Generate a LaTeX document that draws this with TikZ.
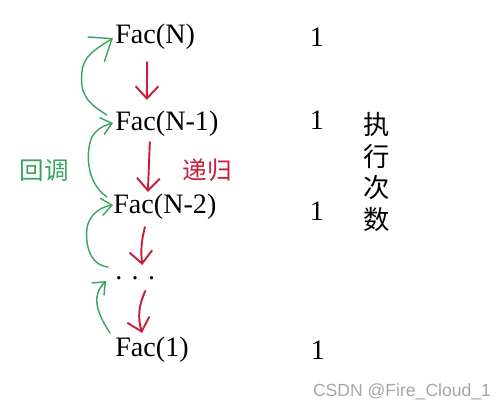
\documentclass[tikz,border=0pt]{standalone}
\usepackage{fontspec}
\setmainfont{Liberation Serif}
\newfontfamily\cjk{Noto Sans CJK SC}
\newfontfamily\wmfont{Liberation Sans}
\usetikzlibrary{arrows.meta}

\definecolor{recred}{RGB}{200,32,58}
\definecolor{backgreen}{RGB}{58,163,96}

\begin{document}
\begin{tikzpicture}[x=0.02cm, y=-0.02cm,
	fac/.style={font=\fontsize{16}{18}\selectfont, inner sep=0pt, anchor=west},
	cnt/.style={font=\fontsize{16}{18}\selectfont, inner sep=0pt},
	han/.style={font=\cjk\fontsize{14}{16}\selectfont, inner sep=0pt},
	down/.style={draw=recred, line width=1.1pt, line cap=round,
		-{Straight Barb[length=7pt, width=13pt, line width=1.1pt]}},
	back/.style={draw=backgreen, line width=0.8pt, line cap=round,
		-{Straight Barb[length=6pt, width=10pt, line width=0.8pt]}}]
	\useasboundingbox (0, 0) rectangle (499, 410);

	% calls
	\node [fac] (fN) at (115, 37) {Fac(N)};
	\node [fac] (fN1) at (115, 124) {Fac(N-1)};
	\node [fac] (fN2) at (113, 207) {Fac(N-2)};
	\node [fac] (dots) at (115, 278) {. . .};
	\node [fac] (f1) at (115, 350) {Fac(1)};

	% counts
	\node [cnt] (cN) at (317, 37) {1};
	\node [cnt] (cN1) at (317, 120) {1};
	\node [cnt] (cN2) at (317, 211) {1};
	\node [cnt] (c1) at (318, 350) {1};

	\node [han, align=center, font=\cjk\fontsize{15}{18}\selectfont] (times) at (377, 172) {执\\行\\次\\数};
	\node [han, text=backgreen] (huidiao) at (44, 170) {回调};
	\node [han, text=recred] (digui) at (207, 170) {递归};

	% recursion
	\draw [down] ([shift={(-8, 12)}]fN.south) -- ([shift={(-20, -11)}]fN1.north);
	\draw [down] ([shift={(-17, 5)}]fN1.south) -- ([shift={(-17, -2)}]fN2.north);
	\draw [down] ([shift={(-20, 7)}]fN2.south) to [bend right=10] ([shift={(7, -11)}]dots.north);
	\draw [down] ([shift={(10, 11)}]dots.south) to [bend right=20] ([shift={(-10, -4)}]f1.north);

	% returns
	\draw [back, -{Straight Barb[length=11pt, width=17pt, line width=0.8pt]}]
		([shift={(-8, -9)}]fN1.west) .. controls (85, 102) and (80, 92) .. (82, 72)
		.. controls (83, 55) and (98, 48) .. ([shift={(-2, 1)}]fN.west);
	\draw [back] ([shift={(-6, -10)}]fN2.west) .. controls (85, 182) and (86, 150) .. (92, 137)
		.. controls (96, 130) and (102, 126) .. ([shift={(-2, -1)}]fN1.west);
	\draw [back] ([shift={(-7, -11)}]dots.west) .. controls (90, 265) and (85, 245) .. (87, 228)
		.. controls (89, 215) and (100, 207) .. ([shift={(0, -2)}]fN2.west);
	\draw [back] ([shift={(-5, -17)}]f1.west) .. controls (95, 310) and (92, 295) .. ([shift={(-9, 3)}]dots.west);

	\node [font=\wmfont\fontsize{10}{12}\selectfont, text=gray!70, inner sep=0pt] (mark) at (402, 392) {CSDN @Fire\_Cloud\_1};
\end{tikzpicture}
\end{document}
